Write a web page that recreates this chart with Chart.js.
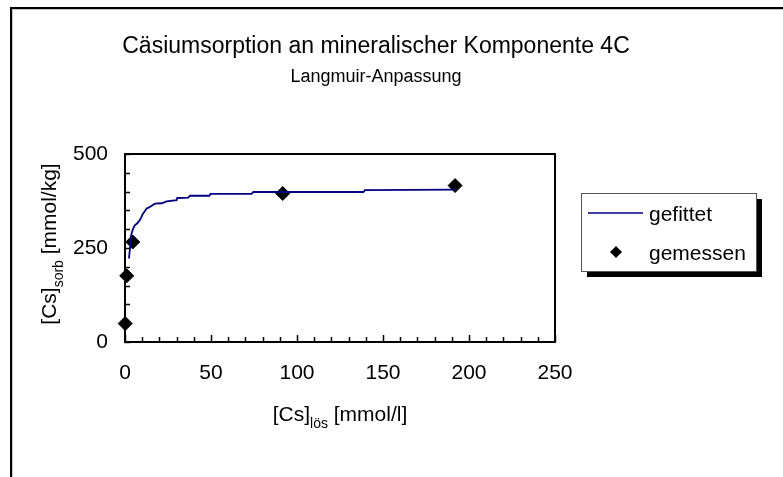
<!DOCTYPE html>
<html>
<head>
<meta charset="utf-8">
<script src="https://cdn.jsdelivr.net/npm/chart.js@4.4.1/dist/chart.umd.min.js"></script>
<style>
  html, body { margin: 0; padding: 0; background: #fff; }
  #wrap { width: 783px; height: 477px; position: relative; }
</style>
</head>
<body>
<div id="wrap"><canvas id="c" width="783" height="477"></canvas></div>
<script>
// ---- data ----
const titleText = "Cäsiumsorption an mineralischer Komponente 4C";
const subtitleText = "Langmuir-Anpassung";
const seriesNames = ["gefittet", "gemessen"];

// fitted Langmuir curve
const fitX = [2.3, 2.9, 3.6, 4.6, 5.8, 7.0, 8.3, 9.3, 10.3, 11.5, 12.6, 14.0, 15.1, 17.4, 21.3, 24.2, 30.0, 30.4, 36.8, 37.8, 49.0, 49.8, 73.6, 74.6, 138.6, 139.5, 191.9];
const fitY = [222, 249, 285, 300, 311, 315, 322, 330, 340, 348, 355, 358, 361, 368, 369, 374, 377, 383, 384, 389, 389, 394, 394, 399, 399, 404, 405];

// measured values
const measX = [0.1, 1.0, 4.5, 91.7, 191.9];
const measY = [49, 176, 266, 395, 416];

// axes
const xTicks = [0, 50, 100, 150, 200, 250];
const yTicks = [0, 250, 500];
const xMinorStep = 10;
const yMinorStep = 50;

const FONT = "'Liberation Sans', Arial, sans-serif";

const decorPlugin = {
  id: 'decor',
  beforeDraw(chart) {
    const ctx = chart.ctx;
    ctx.save();
    ctx.fillStyle = '#fff';
    ctx.fillRect(0, 0, chart.width, chart.height);
    ctx.restore();
  },
  afterDraw(chart) {
    const ctx = chart.ctx;
    const a = chart.chartArea;
    const xs = chart.scales.x, ys = chart.scales.y;
    ctx.save();

    // outer frame (extends beyond the window on right and bottom)
    ctx.fillStyle = '#000';
    ctx.fillRect(10, 7, 2, chart.height);
    ctx.fillRect(10, 7, chart.width, 2);
    ctx.fillStyle = '#c8c8c8';
    ctx.fillRect(12, 9, 1, chart.height);
    ctx.fillRect(12, 9, chart.width, 1);

    // plot border
    ctx.strokeStyle = '#000';
    ctx.lineWidth = 2;
    ctx.strokeRect(a.left, a.top, a.right - a.left, a.bottom - a.top);

    // inner tick marks
    ctx.lineWidth = 1.5;
    ctx.beginPath();
    for (let v = xs.min; v <= xs.max + 1e-9; v += xMinorStep) {
      const px = Math.round(xs.getPixelForValue(v)) + 0.5;
      const len = (v % 50 === 0) ? 7 : 5;
      ctx.moveTo(px, a.bottom);
      ctx.lineTo(px, a.bottom - len);
    }
    for (let v = ys.min; v <= ys.max + 1e-9; v += yMinorStep) {
      const py = Math.round(ys.getPixelForValue(v)) + 0.5;
      ctx.moveTo(a.left, py);
      ctx.lineTo(a.left + 5, py);
    }
    ctx.stroke();

    // titles
    ctx.fillStyle = '#000';
    ctx.textAlign = 'center';
    ctx.textBaseline = 'alphabetic';
    ctx.font = '23px ' + FONT;
    ctx.fillText(titleText, 376, 53);
    ctx.font = '18px ' + FONT;
    ctx.fillText(subtitleText, 376, 82);

    // axis titles with subscripts
    function drawSub(parts, cx, baseY) {
      // parts: [text, size, dy]
      let total = 0;
      parts.forEach(p => { ctx.font = p[1] + 'px ' + FONT; total += ctx.measureText(p[0]).width; });
      let x = cx - total / 2;
      ctx.textAlign = 'left';
      parts.forEach(p => {
        ctx.font = p[1] + 'px ' + FONT;
        ctx.fillText(p[0], x, baseY + p[2]);
        x += ctx.measureText(p[0]).width;
      });
    }
    const xMid = (a.left + a.right) / 2;
    drawSub([["[Cs]", 21, 0], ["lös", 14, 7], [" [mmol/l]", 21, 0]], xMid, 421);

    ctx.save();
    ctx.translate(56, (a.top + a.bottom) / 2 - 4);
    ctx.rotate(-Math.PI / 2);
    drawSub([["[Cs]", 21, 0], ["sorb", 14, 7], [" [mmol/kg]", 21, 0]], 0, 0);
    ctx.restore();

    // legend
    const L = { x: 581, y: 193, w: 175, h: 78 };
    ctx.fillStyle = '#000';
    ctx.fillRect(L.x + 6, L.y + 6, L.w, L.h);
    ctx.fillStyle = '#fff';
    ctx.fillRect(L.x, L.y, L.w, L.h);
    ctx.strokeStyle = '#555';
    ctx.lineWidth = 1;
    ctx.strokeRect(L.x + 0.5, L.y + 0.5, L.w, L.h);

    const ds0 = chart.data.datasets[0];
    ctx.strokeStyle = ds0.borderColor;
    ctx.lineWidth = 1.5;
    ctx.beginPath();
    ctx.moveTo(588, 213);
    ctx.lineTo(643, 213);
    ctx.stroke();

    ctx.fillStyle = '#000';
    ctx.beginPath();
    const mx = 616, my = 252, r = 6;
    ctx.moveTo(mx - r, my); ctx.lineTo(mx, my - r); ctx.lineTo(mx + r, my); ctx.lineTo(mx, my + r);
    ctx.closePath();
    ctx.fill();

    ctx.textAlign = 'left';
    ctx.font = '21px ' + FONT;
    ctx.fillText(seriesNames[0], 649, 221);
    ctx.fillText(seriesNames[1], 649, 260);

    ctx.restore();
  }
};

const chart = new Chart(document.getElementById('c'), {
  type: 'scatter',
  data: {
    datasets: [
      {
        label: seriesNames[0],
        data: fitX.map((x, i) => ({ x: x, y: fitY[i] })),
        showLine: true,
        borderColor: '#000080',
        borderWidth: 1.8,
        pointRadius: 0,
        tension: 0,
        fill: false
      },
      {
        label: seriesNames[1],
        data: measX.map((x, i) => ({ x: x, y: measY[i] })),
        showLine: false,
        pointStyle: 'rectRot',
        pointRadius: 7,
        pointBackgroundColor: '#000',
        pointBorderColor: '#000',
        pointBorderWidth: 1
      }
    ]
  },
  options: {
    responsive: false,
    animation: false,
    devicePixelRatio: 1,
    clip: false,
    layout: { padding: { left: 0, top: 154, right: 228, bottom: 0 } },
    plugins: {
      legend: { display: false },
      title: { display: false },
      tooltip: { enabled: false }
    },
    scales: {
      x: {
        type: 'linear',
        min: xTicks[0],
        max: xTicks[xTicks.length - 1],
        afterBuildTicks: s => { s.ticks = xTicks.map(v => ({ value: v })); },
        grid: { display: false, drawTicks: false, tickLength: 0 },
        border: { display: false },
        ticks: { color: '#000', font: { family: FONT, size: 21 }, padding: 19, maxRotation: 0 },
        afterFit: s => { s.height = 135; }
      },
      y: {
        type: 'linear',
        min: yTicks[0],
        max: yTicks[yTicks.length - 1],
        afterBuildTicks: s => { s.ticks = yTicks.map(v => ({ value: v })); },
        grid: { display: false, drawTicks: false, tickLength: 0 },
        border: { display: false },
        ticks: { color: '#000', font: { family: FONT, size: 21 }, padding: 17 },
        afterFit: s => { s.width = 125; }
      }
    }
  },
  plugins: [decorPlugin]
});
</script>
</body>
</html>
